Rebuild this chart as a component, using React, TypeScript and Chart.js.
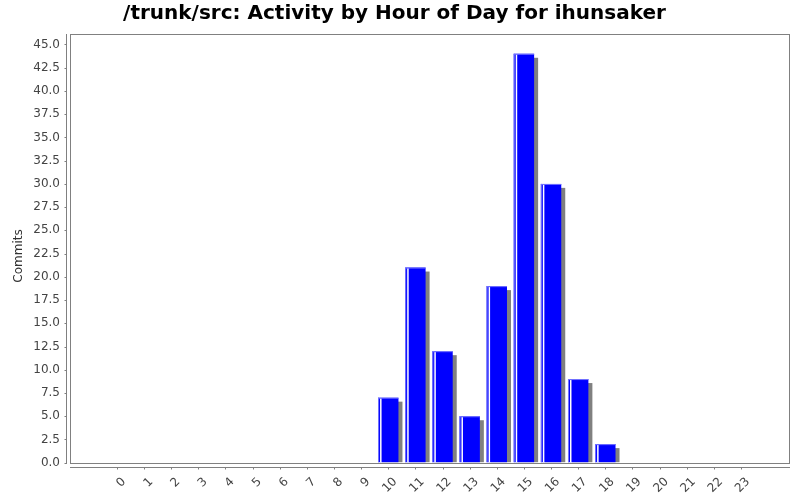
import React, { useEffect, useRef } from 'react'
import Chart from 'chart.js/auto'

const hours = [0, 1, 2, 3, 4, 5, 6, 7, 8, 9, 10, 11, 12, 13, 14, 15, 16, 17, 18, 19, 20, 21, 22, 23]
const commits = [0, 0, 0, 0, 0, 0, 0, 0, 0, 0, 7, 21, 12, 5, 19, 44, 30, 9, 2, 0, 0, 0, 0, 0]

const TITLE = '/trunk/src: Activity by Hour of Day for ihunsaker'
const Y_TITLE = 'Commits'
const AXIS_GRAY = '#808080'
const FONT = "'DejaVu Sans', sans-serif"

// plot frame, offset axes, y title and the bar shadows / highlights
const framePlugin = {
  id: 'frame',
  beforeDatasetsDraw(chart: any) {
    const { ctx } = chart
    const meta = chart.getDatasetMeta(0)
    ctx.save()
    ctx.fillStyle = '#808080'
    meta.data.forEach((bar: any, i: number) => {
      if (!commits[i]) return
      const { x, y, base, width } = bar.getProps(['x', 'y', 'base', 'width'], true)
      ctx.fillRect(x - width / 2 + 4, y + 4, width, base - y - 4)
    })
    ctx.restore()
  },
  afterDatasetsDraw(chart: any) {
    const { ctx, chartArea } = chart
    const meta = chart.getDatasetMeta(0)
    ctx.save()
    meta.data.forEach((bar: any, i: number) => {
      if (!commits[i]) return
      const { x, y, base, width } = bar.getProps(['x', 'y', 'base', 'width'], true)
      const left = x - width / 2
      ctx.fillStyle = '#7777ff'
      ctx.fillRect(left, y, width, 1)
      ctx.fillRect(left, y, 1, base - y)
      ctx.fillStyle = '#ffffff'
      ctx.fillRect(left + 2, y + 1, 1.5, base - y - 1)
    })

    const { left, right, top, bottom } = chartArea
    ctx.strokeStyle = AXIS_GRAY
    ctx.lineWidth = 1
    ctx.strokeRect(Math.round(left) + 0.5, Math.round(top) + 0.5, Math.round(right - left), Math.round(bottom - top))

    // y axis, set 4px off the plot
    const ax = Math.round(left) - 4 + 0.5
    ctx.beginPath()
    ctx.moveTo(ax, Math.round(top))
    ctx.lineTo(ax, Math.round(bottom) + 1)
    const yScale = chart.scales.y
    yScale.ticks.forEach((t: any) => {
      const py = Math.round(yScale.getPixelForValue(t.value)) + 0.5
      ctx.moveTo(ax - 2, py)
      ctx.lineTo(ax, py)
    })
    // x axis, set 4px below the plot
    const ay = Math.round(bottom) + 4 + 0.5
    ctx.moveTo(Math.round(left), ay)
    ctx.lineTo(Math.round(right) + 1, ay)
    const xScale = chart.scales.x
    xScale.ticks.forEach((t: any) => {
      const px = Math.round(xScale.getPixelForValue(t.value)) + 0.5
      ctx.moveTo(px, ay)
      ctx.lineTo(px, ay + 2)
    })
    ctx.stroke()

    // y axis title
    ctx.translate(19, 256)
    ctx.rotate(-Math.PI / 2)
    ctx.fillStyle = '#333'
    ctx.font = `12px ${FONT}`
    ctx.textAlign = 'center'
    ctx.textBaseline = 'middle'
    ctx.fillText(Y_TITLE, 0, 0)
    ctx.restore()
  }
}

const ActivityChart = () => {
  const chartRef = useRef<HTMLCanvasElement>(null)
  const chartInstance = useRef<Chart>()

  useEffect(() => {
    if (!chartRef.current) return
    if (chartInstance.current) chartInstance.current.destroy()
    const ctx = chartRef.current.getContext('2d')
    if (!ctx) return

    chartInstance.current = new Chart(ctx, {
      type: 'bar',
      data: {
        datasets: [{
          data: hours.map((h, i) => ({ x: h, y: commits[i] })),
          backgroundColor: '#0000ff',
          borderWidth: 0,
          barPercentage: 0.94,
          categoryPercentage: 0.8
        }]
      },
      options: {
        animation: false,
        responsive: true,
        maintainAspectRatio: false,
        layout: { padding: { left: 0, right: 11, top: 0, bottom: 0 } },
        plugins: {
          legend: { display: false },
          tooltip: { enabled: false },
          title: {
            display: true,
            text: TITLE,
            color: '#000',
            font: { family: FONT, size: 20, weight: 'bold' },
            padding: { top: 2, bottom: 7.6 }
          }
        },
        scales: {
          x: {
            type: 'linear',
            min: -1.73,
            max: 24.77,
            offset: false,
            grid: { display: true, drawOnChartArea: false, color: 'transparent', tickLength: 6, offset: false },
            border: { display: false },
            afterBuildTicks: (scale: any) => {
              scale.ticks = hours.map(h => ({ value: h }))
            },
            afterFit: (scale: any) => { scale.height = 37.3 },
            ticks: {
              autoSkip: false,
              maxRotation: 45,
              minRotation: 45,
              padding: 6,
              labelOffset: 7,
              color: '#444',
              font: { family: FONT, size: 12 },
              callback: (v: any) => String(v)
            }
          },
          y: {
            min: 0,
            max: 46.17,
            grid: { display: true, drawOnChartArea: false, color: 'transparent', tickLength: 6 },
            border: { display: false },
            afterFit: (scale: any) => { scale.width = 70 },
            ticks: {
              stepSize: 2.5,
              includeBounds: false,
              padding: 4,
              color: '#444',
              font: { family: FONT, size: 12 },
              callback: (v: any) => Number(v).toFixed(1)
            }
          }
        }
      },
      plugins: [framePlugin]
    })

    return () => {
      if (chartInstance.current) {
        chartInstance.current.destroy()
        chartInstance.current = undefined
      }
    }
  }, [])

  return (
    <div style={{ position: 'fixed', left: 0, top: 0, width: 800, height: 500, background: '#fff' }}>
      <canvas ref={chartRef} />
    </div>
  )
}

export default function App() {
  return <ActivityChart />
}
